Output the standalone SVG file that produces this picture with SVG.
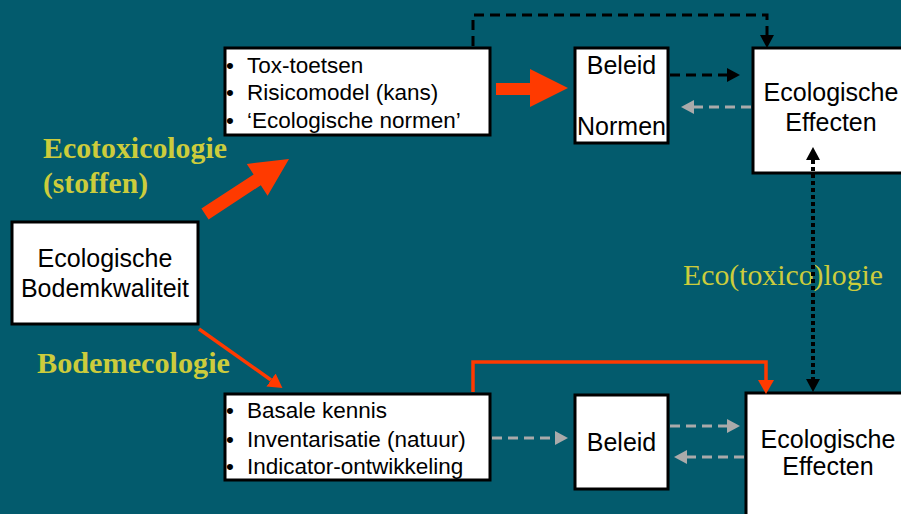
<svg xmlns="http://www.w3.org/2000/svg" width="901" height="514" viewBox="0 0 901 514">
  <style>
    .box { fill: #ffffff; stroke: #000000; stroke-width: 3; }
    .t { font-family: "Liberation Sans", Arial, sans-serif; fill: #000000; }
    .big { font-size: 25px; text-anchor: middle; }
    .lst { font-size: 22.5px; }
    .yl { font-family: "Liberation Serif", "Times New Roman", serif; fill: #cccc3c; }
    .dashK { fill: none; stroke: #000000; stroke-width: 3; stroke-dasharray: 10 6; }
    .dashG { fill: none; stroke: #aaaaaa; stroke-width: 3; stroke-dasharray: 10 6; }
    .dot { fill: none; stroke: #000000; stroke-width: 4; stroke-dasharray: 4 3; }
    .red { fill: none; stroke: #ff3a00; stroke-width: 3.5; }
  </style>
  <defs>
    <marker id="hk" markerUnits="userSpaceOnUse" markerWidth="14" markerHeight="14" refX="0" refY="7" orient="auto">
      <path d="M0,0 L13,7 L0,14 z" fill="#000000"/>
    </marker>
    <marker id="hks" markerUnits="userSpaceOnUse" markerWidth="14" markerHeight="14" refX="0" refY="7" orient="auto-start-reverse">
      <path d="M0,0 L13,7 L0,14 z" fill="#000000"/>
    </marker>
    <marker id="hg" markerUnits="userSpaceOnUse" markerWidth="14" markerHeight="14" refX="0" refY="7" orient="auto">
      <path d="M0,0 L13,7 L0,14 z" fill="#aaaaaa"/>
    </marker>
    <marker id="hr" markerUnits="userSpaceOnUse" markerWidth="16" markerHeight="16" refX="0" refY="8" orient="auto">
      <path d="M0,0 L14,8 L0,16 z" fill="#ff3a00"/>
    </marker>
  </defs>
  <rect x="0" y="0" width="901" height="514" fill="#035b6d"/>

  <g id="labels">
    <text class="yl" x="43" y="158" font-size="28.5" font-weight="bold" textLength="184" lengthAdjust="spacingAndGlyphs">Ecotoxicologie</text>
    <text class="yl" x="43" y="193" font-size="28.5" font-weight="bold" textLength="105" lengthAdjust="spacingAndGlyphs">(stoffen)</text>
    <text class="yl" x="37" y="373" font-size="28.5" font-weight="bold" textLength="193" lengthAdjust="spacingAndGlyphs">Bodemecologie</text>
    <text class="yl" x="683" y="285" font-size="30" textLength="200" lengthAdjust="spacingAndGlyphs">Eco(toxico)logie</text>
  </g>

  <g id="node-bodemkwaliteit">
    <rect class="box" x="12" y="222" width="186" height="102"/>
    <text class="t big" x="105" y="267">Ecologische</text>
    <text class="t big" x="105" y="297">Bodemkwaliteit</text>
  </g>

  <g id="node-ecotox-list">
    <rect class="box" x="225" y="48" width="265" height="87"/>
    <text class="t lst" x="226" y="73">•</text>
    <text class="t lst" x="247" y="73">Tox-toetsen</text>
    <text class="t lst" x="226" y="100">•</text>
    <text class="t lst" x="247" y="100">Risicomodel (kans)</text>
    <text class="t lst" x="226" y="128">•</text>
    <text class="t lst" x="247" y="128">‘Ecologische normen’</text>
  </g>

  <g id="node-beleid-normen">
    <rect class="box" x="575" y="48" width="93" height="95"/>
    <text class="t big" x="621.5" y="74">Beleid</text>
    <text class="t big" x="621.5" y="135">Normen</text>
  </g>

  <g id="node-effecten-top">
    <rect class="box" x="753" y="48" width="160" height="125"/>
    <text class="t big" x="831" y="101">Ecologische</text>
    <text class="t big" x="831" y="131">Effecten</text>
  </g>

  <g id="node-bodem-list">
    <rect class="box" x="225" y="394" width="265" height="86"/>
    <text class="t lst" x="226" y="418">•</text>
    <text class="t lst" x="247" y="418">Basale kennis</text>
    <text class="t lst" x="226" y="447">•</text>
    <text class="t lst" x="247" y="447">Inventarisatie (natuur)</text>
    <text class="t lst" x="226" y="474">•</text>
    <text class="t lst" x="247" y="474">Indicator-ontwikkeling</text>
  </g>

  <g id="node-beleid-bottom">
    <rect class="box" x="575" y="395" width="93" height="94"/>
    <text class="t big" x="621.5" y="451">Beleid</text>
  </g>

  <g id="node-effecten-bottom">
    <rect class="box" x="746" y="393" width="170" height="140"/>
    <text class="t big" x="828" y="448">Ecologische</text>
    <text class="t big" x="828" y="475">Effecten</text>
  </g>

  <g id="connectors">
    <path class="dashK" d="M473,46 V15 H767 V35" marker-end="url(#hk)"/>
    <path class="dashK" d="M670,75 H727" marker-end="url(#hk)"/>
    <path class="dashG" d="M751,107 H694" marker-end="url(#hg)"/>
    <path class="dot" d="M813,160 V379" marker-start="url(#hks)" marker-end="url(#hk)"/>
    <path class="red" d="M473,392 V362 H766 V380" marker-end="url(#hr)"/>
    <path class="dashG" d="M492,438 H555" marker-end="url(#hg)"/>
    <path class="dashG" d="M670,426 H727" marker-end="url(#hg)"/>
    <path class="dashG" d="M744,457 H687" marker-end="url(#hg)"/>
    <polygon fill="#ff3a00" points="201.4,208.6 253.6,174.4 246.8,163.9 289,159 267.6,195.7 260.8,185.2 208.6,219.4"/>
    <polygon fill="#ff3a00" points="496,83 530,83 530,69 568,88 530,107 530,95 496,95"/>
    <path class="red" d="M199,329 L271,380" stroke-width="3" marker-end="url(#hr)"/>
  </g>
</svg>
